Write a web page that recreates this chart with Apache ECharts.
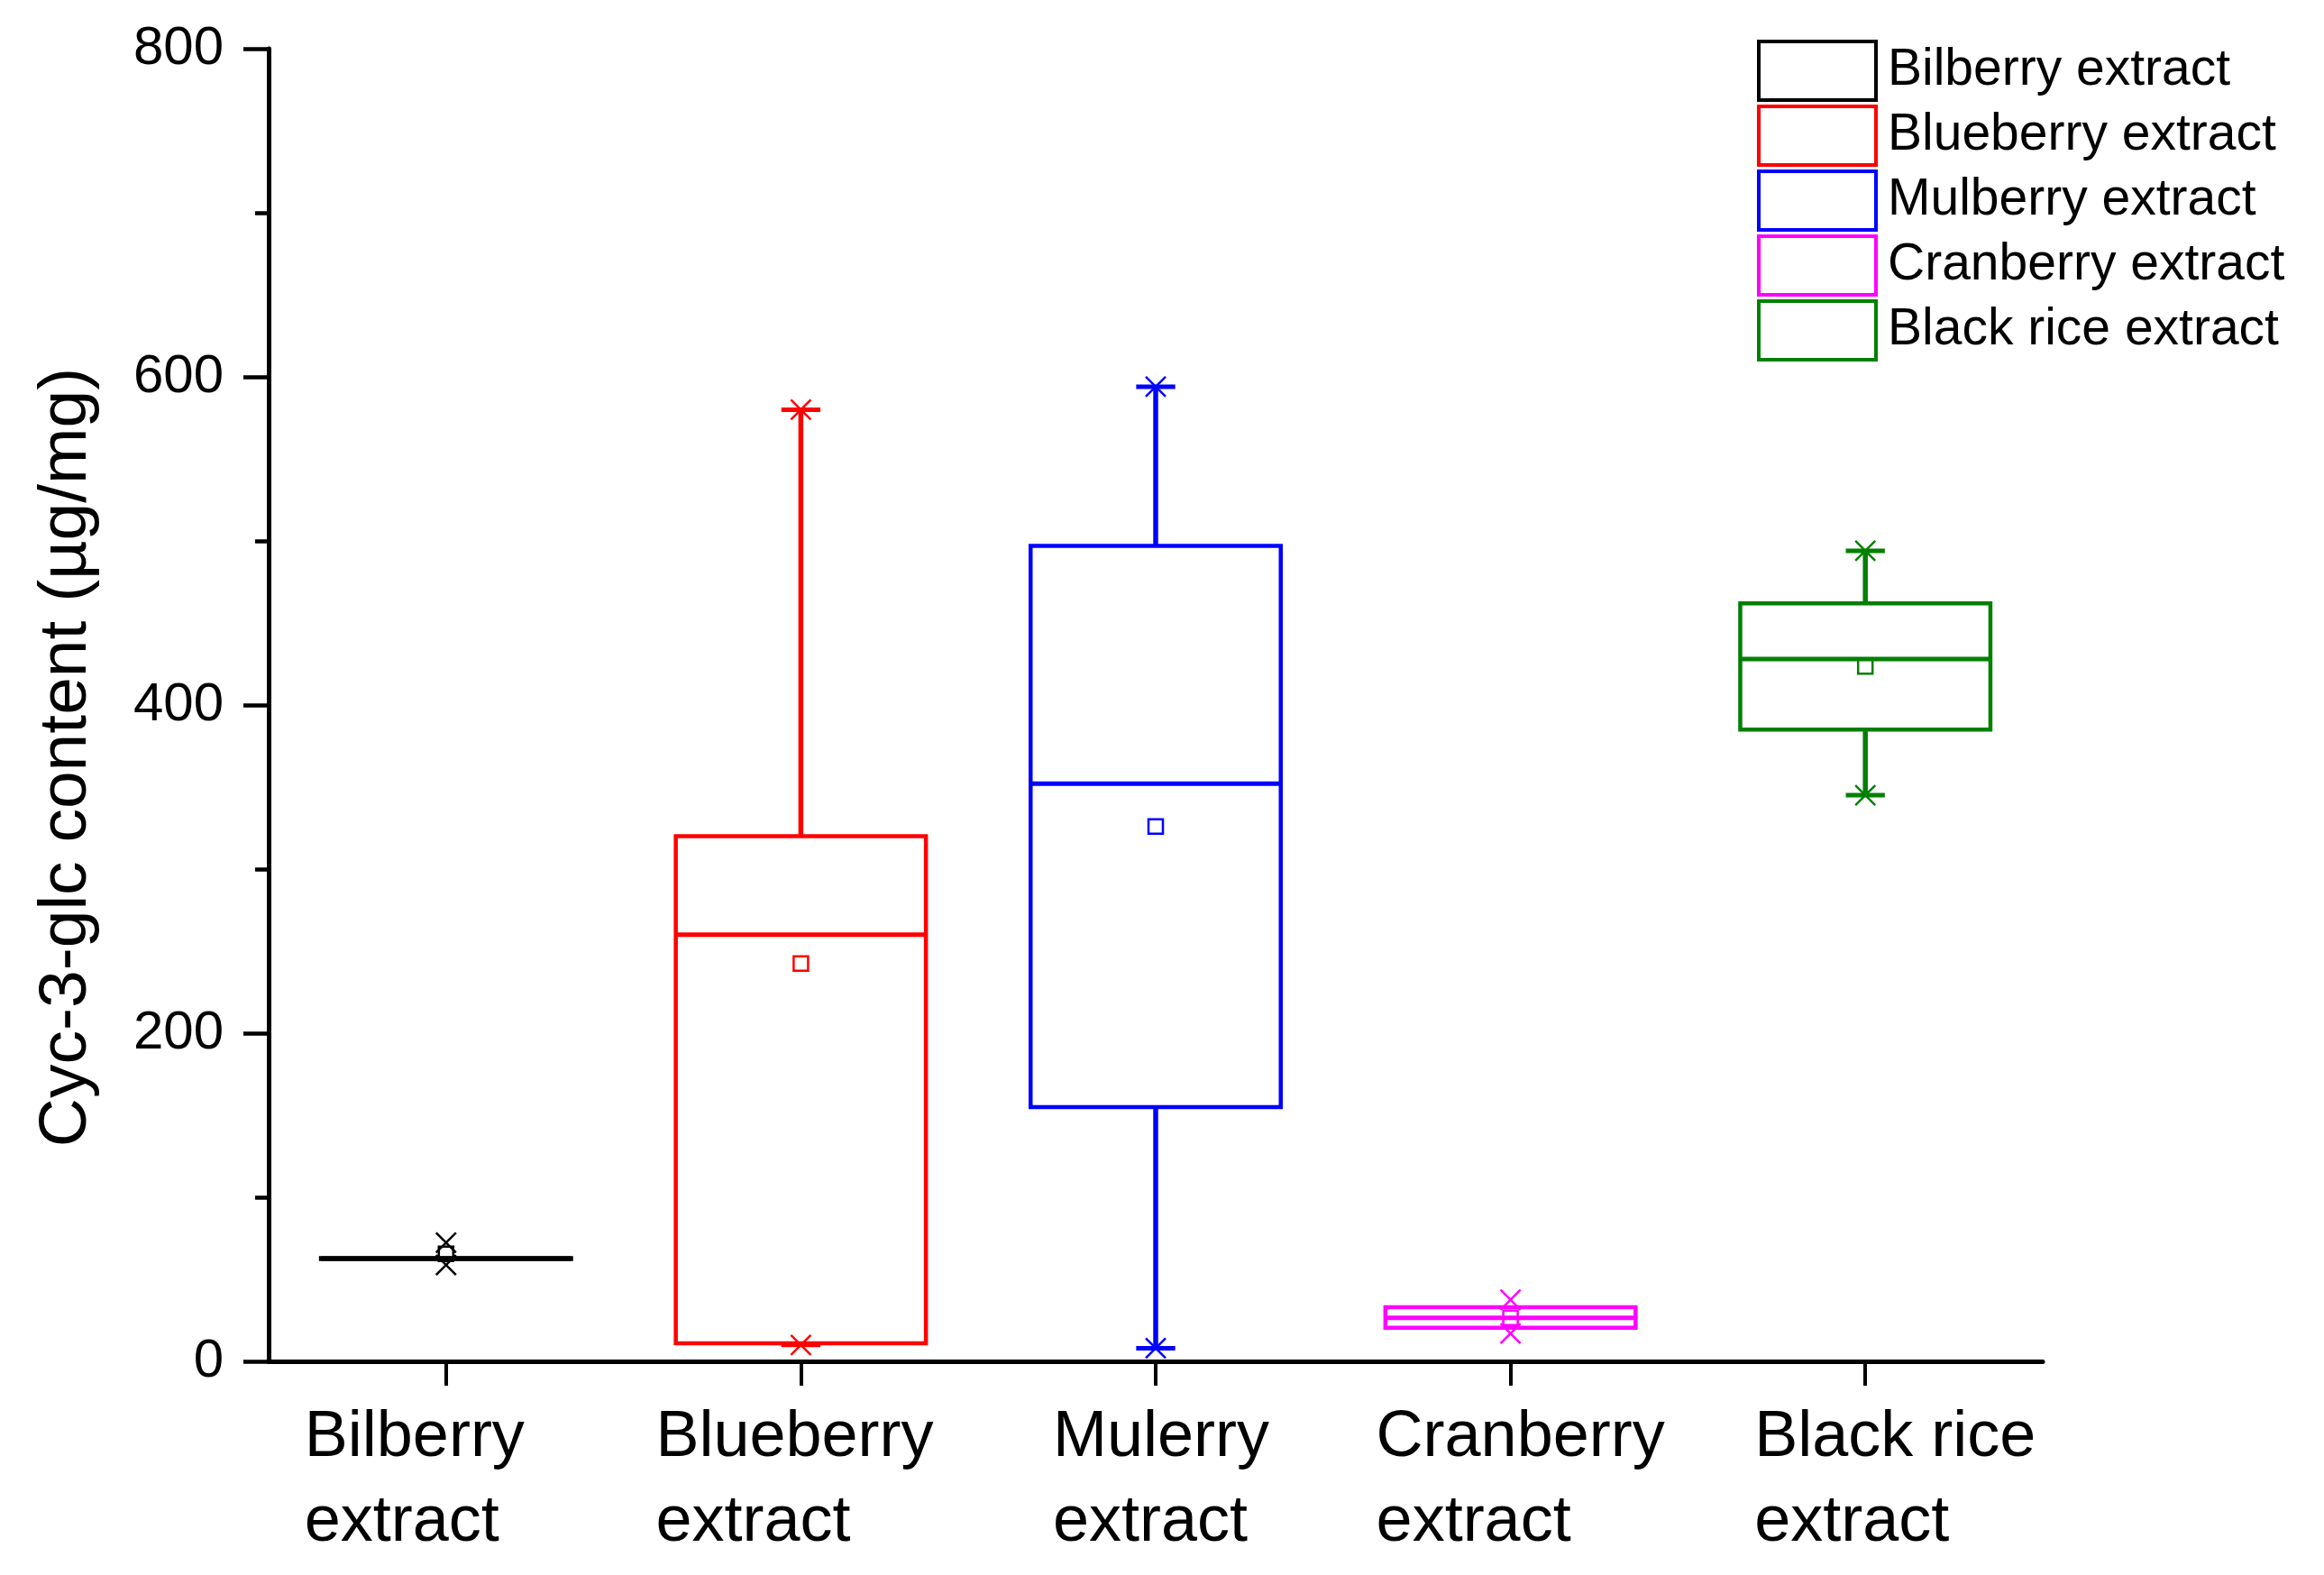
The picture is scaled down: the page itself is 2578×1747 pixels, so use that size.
<!DOCTYPE html>
<html>
<head>
<meta charset="utf-8">
<script src="https://cdn.jsdelivr.net/npm/echarts@6/dist/echarts.min.js"></script>
<style>
html,body{margin:0;padding:0;background:#ffffff;}
#chart{width:2578px;height:1747px;}
</style>
</head>
<body>
<div id="chart"></div>
<script>
// ---- data ----
const seriesNames = ['Bilberry extract', 'Blueberry extract', 'Mulberry extract', 'Cranberry extract', 'Black rice extract'];
const axisLabels = ['Bilberry\nextract', 'Blueberry\nextract', 'Mulerry\nextract', 'Cranberry\nextract', 'Black rice\nextract'];
const whiskerLow  = [62.3, 10, 8, 20.5, 345];
const quartile1   = [62.3, 11, 155, 20.5, 385];
const medians     = [62.6, 260, 352, 26.5, 428];
const quartile3   = [62.9, 320, 497, 33, 462];
const whiskerHigh = [62.9, 580, 594, 33, 494];
const means       = [65.5, 242.5, 326, 26.5, 423.5];
const pct1        = [58.7, 10, 8, 17, 345];
const pct99       = [72.3, 580, 594, 37.5, 494];
const yTickLabels = [0, 200, 400, 600, 800];
const yTitle = 'Cyc-3-glc content (\u00b5g/mg)';

// ---- styling / layout ----
const colors = ['#000000', '#ff0000', '#0000ff', '#ff00ff', '#008000'];
const labelBlockWidths = [314, 322, 228, 298, 246];
const FONT = '"Liberation Sans", Arial, Helvetica, sans-serif';

function renderBox(params, api) {
  const i = api.value(0);
  const c = colors[params.seriesIndex];
  const band = api.size([1, 0])[0];
  const bw = band * 0.705;
  const cap = band * 0.11;
  const xm = band * 0.028;
  const cx = api.coord([i, 0])[0];
  const y = v => api.coord([i, v])[1];
  const yMin = y(api.value(1)), yQ1 = y(api.value(2)), yMed = y(api.value(3));
  const yQ3 = y(api.value(4)), yMax = y(api.value(5)), yMean = y(api.value(6));
  const yP1 = y(api.value(7)), yP99 = y(api.value(8));
  const line = (x1, y1, x2, y2, w) => ({
    type: 'line', shape: {x1: x1, y1: y1, x2: x2, y2: y2},
    style: {stroke: c, lineWidth: w}
  });
  const ch = [];
  // whiskers
  if (api.value(5) > api.value(4)) {
    ch.push(line(cx, yQ3, cx, yMax, 5.5));
    ch.push(line(cx - cap / 2, yMax, cx + cap / 2, yMax, 5));
  }
  if (api.value(1) < api.value(2)) {
    ch.push(line(cx, yQ1, cx, yMin, 5.5));
    ch.push(line(cx - cap / 2, yMin, cx + cap / 2, yMin, 5));
  }
  // box
  ch.push({
    type: 'rect',
    shape: {x: cx - bw / 2, y: yQ3, width: bw, height: Math.max(yQ1 - yQ3, 0)},
    style: {stroke: c, fill: 'none', lineWidth: 4.5}
  });
  // median
  ch.push(line(cx - bw / 2, yMed, cx + bw / 2, yMed, 5));
  // percentile crosses
  [yP1, yP99].forEach(py => {
    ch.push(line(cx - xm, py - xm, cx + xm, py + xm, 2.5));
    ch.push(line(cx - xm, py + xm, cx + xm, py - xm, 2.5));
  });
  // mean square
  const s = 16;
  ch.push({
    type: 'rect',
    shape: {x: cx - s / 2, y: yMean - s / 2, width: s, height: s},
    style: {stroke: c, fill: 'none', lineWidth: 2.5}
  });
  return {type: 'group', children: ch};
}

const rich = {};
labelBlockWidths.forEach((w, i) => {
  rich['c' + i] = {
    fontSize: 72, lineHeight: 94, width: w, align: 'left',
    fontFamily: FONT, color: '#000000'
  };
});

const chart = echarts.init(document.getElementById('chart'), null, {renderer: 'canvas'});
const option = {
  backgroundColor: '#ffffff',
  animation: false,
  grid: {left: 298, right: 312, top: 54, bottom: 237, containLabel: false},
  legend: {
    orient: 'vertical',
    left: 1949,
    top: 44,
    itemWidth: 130,
    itemHeight: 65,
    itemGap: 3,
    padding: 0,
    textStyle: {fontSize: 57, lineHeight: 60, color: '#000000', fontFamily: FONT, padding: [0, 0, 0, 8]},
    data: seriesNames.map((n, i) => ({
      name: n,
      icon: 'rect',
      itemStyle: {color: '#ffffff', borderColor: colors[i], borderWidth: 4}
    }))
  },
  xAxis: {
    type: 'category',
    data: axisLabels,
    boundaryGap: true,
    axisLine: {show: true, lineStyle: {color: '#000000', width: 5}},
    axisTick: {show: true, alignWithLabel: true, length: 27, lineStyle: {color: '#000000', width: 4}},
    axisLabel: {
      interval: 0,
      margin: 38,
      formatter: (v, idx) => v.split('\n').map(t => '{c' + idx + '|' + t + '}').join('\n'),
      rich: rich
    },
    splitLine: {show: false}
  },
  yAxis: {
    type: 'value',
    min: yTickLabels[0],
    max: yTickLabels[yTickLabels.length - 1],
    interval: yTickLabels[1] - yTickLabels[0],
    name: yTitle,
    nameLocation: 'middle',
    nameGap: 186,
    nameRotate: 90,
    nameTextStyle: {fontSize: 75, color: '#000000', fontFamily: FONT, padding: [0, 116, 0, 0]},
    axisLine: {show: true, lineStyle: {color: '#000000', width: 5}},
    axisTick: {show: true, length: 28, lineStyle: {color: '#000000', width: 4.5}},
    minorTick: {show: true, splitNumber: 2, length: 15, lineStyle: {color: '#000000', width: 4.5}},
    axisLabel: {fontSize: 60, color: '#000000', fontFamily: FONT, margin: 50},
    splitLine: {show: false}
  },
  series: seriesNames.map((n, i) => ({
    name: n,
    type: 'custom',
    renderItem: renderBox,
    itemStyle: {color: colors[i], borderColor: colors[i]},
    encode: {x: 0, y: [1, 2, 3, 4, 5]},
    data: [[i, whiskerLow[i], quartile1[i], medians[i], quartile3[i], whiskerHigh[i], means[i], pct1[i], pct99[i]]],
    z: 3
  }))
};
chart.setOption(option);
</script>
</body>
</html>
